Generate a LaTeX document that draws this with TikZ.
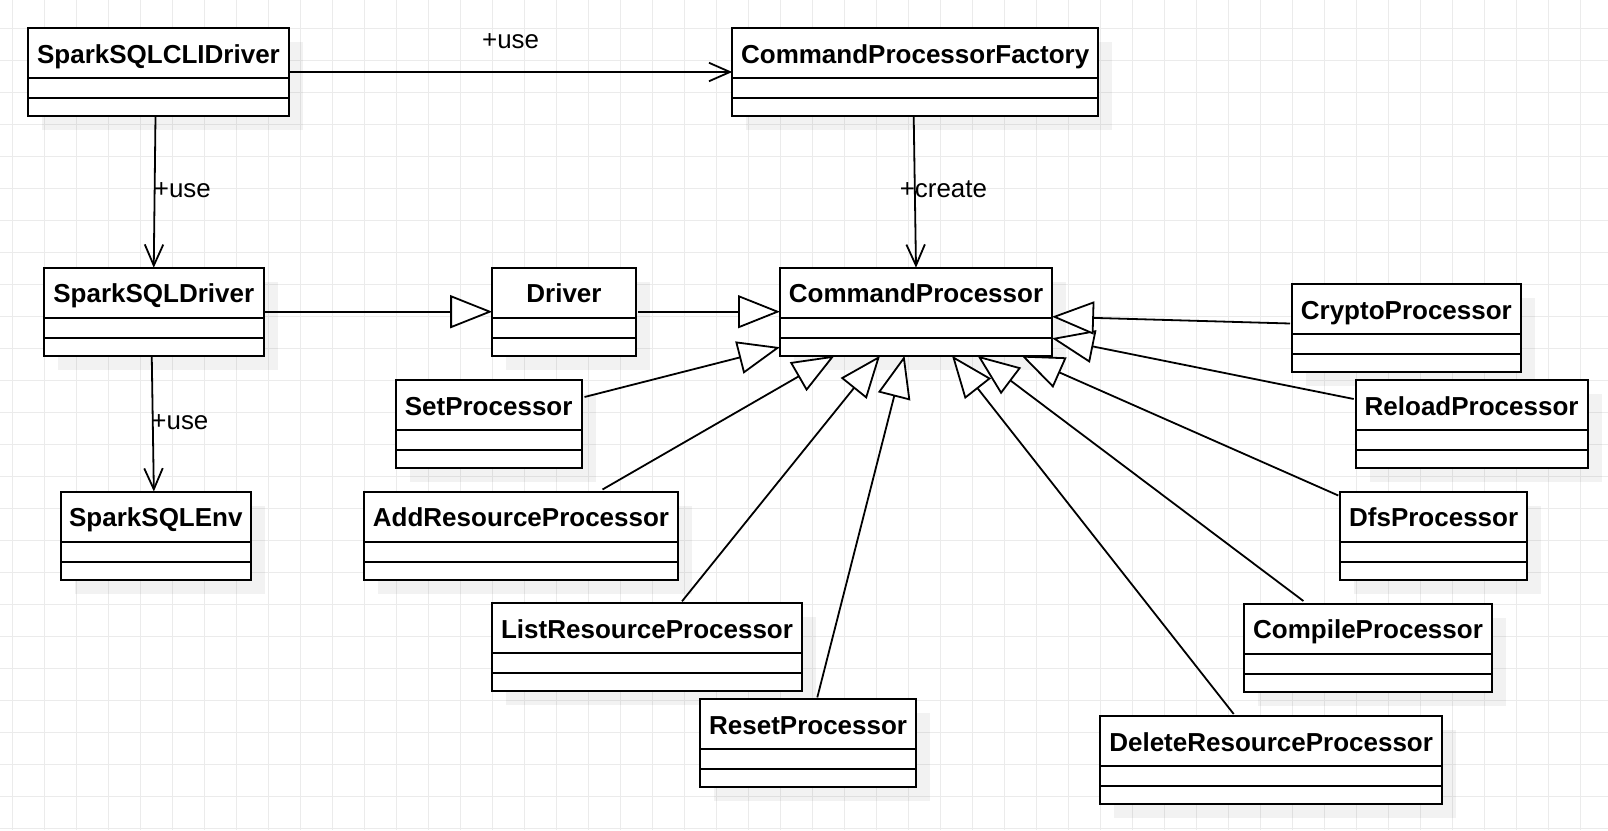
\documentclass[tikz,border=0pt]{standalone}
\usepackage{fontspec}
\setmainfont{Liberation Sans}
\usetikzlibrary{arrows.meta}
\newcommand\umlclass[5]{%
  \fill[shadowfill] (#2+14,#3+14) rectangle ++(#4,88);
  \node[classbox, minimum width=#4pt] (#1) at (#2,#3) {};
  \draw[line width=2pt] ([yshift=-50pt]#1.north west) -- ([yshift=-50pt]#1.north east);
  \draw[line width=2pt] ([yshift=-70pt]#1.north west) -- ([yshift=-70pt]#1.north east);
  \node[titletext] at ([yshift=-35pt]#1.north) {#5};
}
\begin{document}
\begin{tikzpicture}[x=1pt,y=-1pt,
  classbox/.style={draw=black, line width=2pt, fill=white, inner sep=0pt, outer sep=0pt, minimum height=88pt, anchor=north west},
  titletext/.style={font=\fontsize{26}{30}\selectfont\bfseries, inner sep=0pt, anchor=base},
  lbl/.style={font=\fontsize{25.9}{30}\selectfont, inner sep=0pt},
  assoc/.style={line width=1.8pt, -{Straight Barb[length=21pt,width=18.5pt,line width=1.8pt]}},
  gen/.style={line width=1.8pt, -{Triangle[length=42pt,width=33pt,fill=white,line width=1.8pt]}},
  shadowfill/.style={fill=black, fill opacity=0.05},
  gridline/.style={draw=black!8, line width=1pt}]
\useasboundingbox (0,0) rectangle (1608,830);
\fill[white] (0,0) rectangle (1608,830);
\foreach \gx in {0,...,49} \draw[gridline] (12.3+32*\gx,0) -- (12.3+32*\gx,830);
\foreach \gy in {0,...,25} \draw[gridline] (0,28.3+32*\gy) -- (1608,28.3+32*\gy);

\umlclass{cli}{28}{28}{261}{SparkSQLCLIDriver}
\umlclass{factory}{732.2}{28}{366}{CommandProcessorFactory}
\umlclass{sdrv}{44}{267.7}{219.5}{SparkSQLDriver}
\umlclass{driver}{492.2}{267.7}{143.6}{Driver}
\umlclass{cp}{780}{267.7}{272}{CommandProcessor}
\umlclass{crypto}{1292}{284}{228.7}{CryptoProcessor}
\umlclass{set}{395.8}{380}{185.7}{SetProcessor}
\umlclass{reload}{1355.7}{380}{231.8}{ReloadProcessor}
\umlclass{add}{364}{491.5}{314}{AddResourceProcessor}
\umlclass{dfs}{1340.3}{491.5}{186.7}{DfsProcessor}
\umlclass{env}{60.5}{491.5}{190.7}{SparkSQLEnv}
\umlclass{list}{492.2}{603.3}{309.7}{ListResourceProcessor}
\umlclass{compile}{1244}{603.5}{248}{CompileProcessor}
\umlclass{reset}{700.4}{699.4}{215.4}{ResetProcessor}
\umlclass{delete}{1100.4}{716}{341.5}{DeleteResourceProcessor}

% associations
\draw[assoc] ([yshift=-44pt]cli.north east) -- node[lbl, anchor=base, yshift=24pt]{+use} ([yshift=-44pt]factory.north west);
\draw[assoc] ([xshift=-3pt]cli.south) -- node[lbl, pos=0.5386, anchor=base west, xshift=-1.5pt]{+use} (sdrv.north);
\draw[assoc] ([xshift=-2pt]sdrv.south) -- node[lbl, pos=0.543, anchor=base west, xshift=-2.3pt]{+use} ([xshift=-2pt]env.north);
\draw[assoc] ([xshift=-1.5pt]factory.south) -- node[lbl, pos=0.5386, anchor=base west, xshift=-16pt]{+create} (cp.north);

% generalizations
\draw[gen] ([yshift=-44pt]sdrv.north east) -- ([yshift=-44pt]driver.north west);
\draw[gen] ([xshift=2pt,yshift=-44pt]driver.north east) -- ([yshift=-44pt]cp.north west);
\draw[gen] ([xshift=3pt,yshift=-17pt]set.north east) -- ([yshift=-79.5pt]cp.north west);
\draw[gen] ([xshift=238.5pt,yshift=2pt]add.north west) -- ([xshift=54.5pt]cp.south west);
\draw[gen] ([xshift=189.8pt,yshift=2pt]list.north west) -- ([xshift=100pt]cp.south west);
\draw[gen] ([xshift=116.9pt,yshift=2pt]reset.north west) -- ([xshift=124.5pt]cp.south west);
\draw[gen] ([xshift=133.3pt,yshift=2pt]delete.north west) -- ([xshift=172pt]cp.south west);
\draw[gen] ([xshift=59.4pt,yshift=2.5pt]compile.north west) -- ([xshift=197.5pt]cp.south west);
\draw[gen] ([xshift=-2pt,yshift=-4pt]dfs.north west) -- ([xshift=241.5pt]cp.south west);
\draw[gen] ([xshift=-2pt,yshift=-19pt]reload.north west) -- ([yshift=-70.5pt]cp.north east);
\draw[gen] ([xshift=-2pt,yshift=-39.5pt]crypto.north west) -- ([yshift=-49pt]cp.north east);
\end{tikzpicture}
\end{document}
